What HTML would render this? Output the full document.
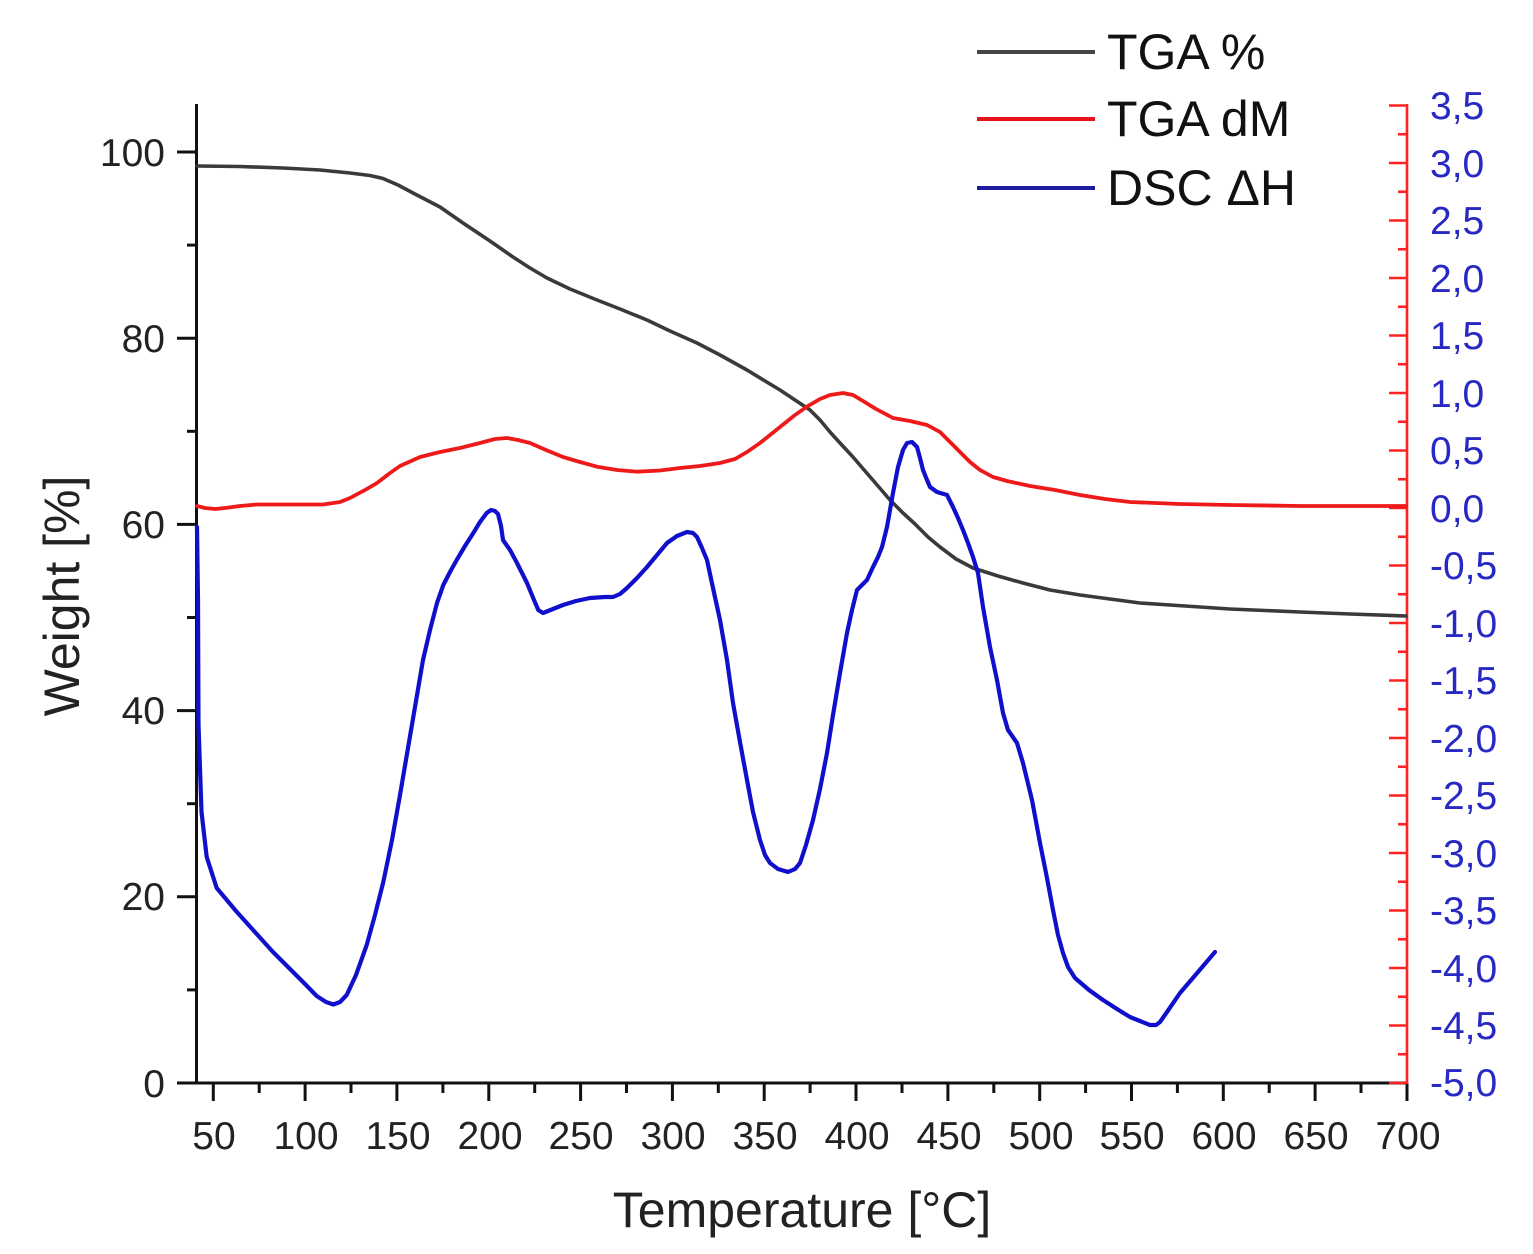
<!DOCTYPE html>
<html><head><meta charset="utf-8"><style>
html,body{margin:0;padding:0;background:#fff;}
svg{display:block;}
text{font-family:"Liberation Sans",Arial,sans-serif;}
</style></head><body>
<svg width="1533" height="1254" viewBox="0 0 1533 1254" xmlns="http://www.w3.org/2000/svg">
<rect width="1533" height="1254" fill="#fff"/>

<!-- Left axis -->
<g stroke="#111" stroke-width="3" fill="none">
<line x1="196.5" y1="104" x2="196.5" y2="1084.5"/>
<line x1="177" y1="1083" x2="1407" y2="1083"/>
<line x1="177" y1="896.8" x2="196.5" y2="896.8"/>
<line x1="177" y1="710.6" x2="196.5" y2="710.6"/>
<line x1="177" y1="524.4" x2="196.5" y2="524.4"/>
<line x1="177" y1="338.2" x2="196.5" y2="338.2"/>
<line x1="177" y1="152" x2="196.5" y2="152"/>
<line x1="187" y1="989.9" x2="196.5" y2="989.9"/>
<line x1="187" y1="803.7" x2="196.5" y2="803.7"/>
<line x1="187" y1="617.5" x2="196.5" y2="617.5"/>
<line x1="187" y1="431.3" x2="196.5" y2="431.3"/>
<line x1="187" y1="245.1" x2="196.5" y2="245.1"/>
<line x1="213.3" y1="1083" x2="213.3" y2="1101"/>
<line x1="305.1" y1="1083" x2="305.1" y2="1101"/>
<line x1="396.9" y1="1083" x2="396.9" y2="1101"/>
<line x1="488.8" y1="1083" x2="488.8" y2="1101"/>
<line x1="580.6" y1="1083" x2="580.6" y2="1101"/>
<line x1="672.4" y1="1083" x2="672.4" y2="1101"/>
<line x1="764.2" y1="1083" x2="764.2" y2="1101"/>
<line x1="856.0" y1="1083" x2="856.0" y2="1101"/>
<line x1="947.9" y1="1083" x2="947.9" y2="1101"/>
<line x1="1039.7" y1="1083" x2="1039.7" y2="1101"/>
<line x1="1131.5" y1="1083" x2="1131.5" y2="1101"/>
<line x1="1223.3" y1="1083" x2="1223.3" y2="1101"/>
<line x1="1315.1" y1="1083" x2="1315.1" y2="1101"/>
<line x1="1407" y1="1083" x2="1407" y2="1101"/>
<line x1="259.2" y1="1083" x2="259.2" y2="1093"/>
<line x1="351.0" y1="1083" x2="351.0" y2="1093"/>
<line x1="442.9" y1="1083" x2="442.9" y2="1093"/>
<line x1="534.7" y1="1083" x2="534.7" y2="1093"/>
<line x1="626.5" y1="1083" x2="626.5" y2="1093"/>
<line x1="718.3" y1="1083" x2="718.3" y2="1093"/>
<line x1="810.1" y1="1083" x2="810.1" y2="1093"/>
<line x1="902.0" y1="1083" x2="902.0" y2="1093"/>
<line x1="993.8" y1="1083" x2="993.8" y2="1093"/>
<line x1="1085.6" y1="1083" x2="1085.6" y2="1093"/>
<line x1="1177.4" y1="1083" x2="1177.4" y2="1093"/>
<line x1="1269.2" y1="1083" x2="1269.2" y2="1093"/>
<line x1="1361.0" y1="1083" x2="1361.0" y2="1093"/>
</g>

<!-- Right axis (red) -->
<g stroke="#ff2222" stroke-width="2.6" fill="none">
<line x1="1407" y1="104" x2="1407" y2="1084"/>
<line x1="1389" y1="105.5" x2="1407" y2="105.5"/>
<line x1="1389" y1="163" x2="1407" y2="163"/>
<line x1="1389" y1="220.5" x2="1407" y2="220.5"/>
<line x1="1389" y1="278" x2="1407" y2="278"/>
<line x1="1389" y1="335.5" x2="1407" y2="335.5"/>
<line x1="1389" y1="393" x2="1407" y2="393"/>
<line x1="1389" y1="450.5" x2="1407" y2="450.5"/>
<line x1="1389" y1="508" x2="1407" y2="508"/>
<line x1="1389" y1="565.5" x2="1407" y2="565.5"/>
<line x1="1389" y1="623" x2="1407" y2="623"/>
<line x1="1389" y1="680.5" x2="1407" y2="680.5"/>
<line x1="1389" y1="738" x2="1407" y2="738"/>
<line x1="1389" y1="795.5" x2="1407" y2="795.5"/>
<line x1="1389" y1="853" x2="1407" y2="853"/>
<line x1="1389" y1="910.5" x2="1407" y2="910.5"/>
<line x1="1389" y1="968" x2="1407" y2="968"/>
<line x1="1389" y1="1025.5" x2="1407" y2="1025.5"/>
<line x1="1389" y1="1083" x2="1407" y2="1083"/>
<line x1="1398" y1="134.25" x2="1407" y2="134.25"/>
<line x1="1398" y1="191.75" x2="1407" y2="191.75"/>
<line x1="1398" y1="249.25" x2="1407" y2="249.25"/>
<line x1="1398" y1="306.75" x2="1407" y2="306.75"/>
<line x1="1398" y1="364.25" x2="1407" y2="364.25"/>
<line x1="1398" y1="421.75" x2="1407" y2="421.75"/>
<line x1="1398" y1="479.25" x2="1407" y2="479.25"/>
<line x1="1398" y1="536.75" x2="1407" y2="536.75"/>
<line x1="1398" y1="594.25" x2="1407" y2="594.25"/>
<line x1="1398" y1="651.75" x2="1407" y2="651.75"/>
<line x1="1398" y1="709.25" x2="1407" y2="709.25"/>
<line x1="1398" y1="766.75" x2="1407" y2="766.75"/>
<line x1="1398" y1="824.25" x2="1407" y2="824.25"/>
<line x1="1398" y1="881.75" x2="1407" y2="881.75"/>
<line x1="1398" y1="939.25" x2="1407" y2="939.25"/>
<line x1="1398" y1="996.75" x2="1407" y2="996.75"/>
<line x1="1398" y1="1054.25" x2="1407" y2="1054.25"/>
</g>

<!-- Left tick labels -->
<g font-size="39" fill="#222" text-anchor="end">
<text x="165" y="1097">0</text>
<text x="165" y="910">20</text>
<text x="165" y="724">40</text>
<text x="165" y="538">60</text>
<text x="165" y="352">80</text>
<text x="165" y="166">100</text>
</g>

<!-- Bottom tick labels -->
<g font-size="39" fill="#222" text-anchor="middle">
<text x="214" y="1149">50</text>
<text x="306" y="1149">100</text>
<text x="398" y="1149">150</text>
<text x="490" y="1149">200</text>
<text x="581" y="1149">250</text>
<text x="673" y="1149">300</text>
<text x="765" y="1149">350</text>
<text x="857" y="1149">400</text>
<text x="949" y="1149">450</text>
<text x="1041" y="1149">500</text>
<text x="1132" y="1149">550</text>
<text x="1224" y="1149">600</text>
<text x="1316" y="1149">650</text>
<text x="1408" y="1149">700</text>
</g>

<!-- Right tick labels -->
<g font-size="39" fill="#2828c4" text-anchor="start">
<text x="1430" y="119">3,5</text>
<text x="1430" y="177">3,0</text>
<text x="1430" y="234">2,5</text>
<text x="1430" y="292">2,0</text>
<text x="1430" y="349">1,5</text>
<text x="1430" y="407">1,0</text>
<text x="1430" y="464">0,5</text>
<text x="1430" y="522">0,0</text>
<text x="1430" y="579">-0,5</text>
<text x="1430" y="637">-1,0</text>
<text x="1430" y="694">-1,5</text>
<text x="1430" y="752">-2,0</text>
<text x="1430" y="809">-2,5</text>
<text x="1430" y="867">-3,0</text>
<text x="1430" y="924">-3,5</text>
<text x="1430" y="982">-4,0</text>
<text x="1430" y="1039">-4,5</text>
<text x="1430" y="1096">-5,0</text>
</g>

<!-- Axis titles -->
<text x="802" y="1227" font-size="50" fill="#222" text-anchor="middle">Temperature [°C]</text>
<text transform="translate(79,596) rotate(-90)" font-size="50" fill="#222" text-anchor="middle">Weight [%]</text>

<!-- TGA % (black) -->
<polyline fill="none" stroke="#3a3a3a" stroke-width="3.6" stroke-linejoin="round" stroke-linecap="round" points="
197,166 240,166.5 283,168 320,170 350,173 370,175.5 383,178.5 398,185 413,193 440,207 463,223 490,241 513,257 530,268 547,278 570,289 597,300 620,309 647,320 670,331 697,343 720,355 747,370 765,381 780,390 795,400 810,410 820,420 830,432 840,443 853,457 865,471 878,486 890,500 903,513 915,524 928,537 940,547 956,559 973,568 998,576 1023,583 1050,590 1080,595 1110,599 1140,603 1170,605 1200,607 1230,609 1300,612 1350,614 1406,616"/>

<!-- TGA dM (red) -->
<polyline fill="none" stroke="#ee1a1a" stroke-width="3.8" stroke-linejoin="round" stroke-linecap="round" points="
197,506 205,508 215,509 225,508 240,506 257,504.5 280,504.5 300,504.5 323,504.5 340,502 350,498 365,490 377,483 390,473 400,466 420,457 440,452 460,448 480,443 495,439 507,438 518,440 530,443 546,450 563,457 580,462 597,466.7 617,470 637,471.7 660,470.5 680,468 700,466 720,463 735,459 747,452 760,443 780,427 795,415 808,406 820,399 830,395 843,393 853,395 863,401 876,409 893,418 910,421 927,425 940,432 950,442 960,452 970,462 980,470 993,477 1007,481 1030,486 1055,490 1080,495 1105,499 1130,502 1180,504 1230,505 1300,506 1406,506"/>

<!-- DSC (blue) -->
<polyline fill="none" stroke="#1010cc" stroke-width="4.2" stroke-linejoin="round" stroke-linecap="round" points="
197,527 198,600 198.5,725 201.5,812 206.7,857 216.7,888 236,911 256.7,934 273,952 290,969 305,984 316.7,996 326,1002 333.3,1004.5 340,1002 346.7,995 356,975 366.7,945 375,915 383.3,882 392,840 400,795 408,748 416.7,697 423,660 430,630 437,603 443.3,585 450,572 456.7,560 465,546 473.3,533 480,522 486.7,513 491,510 495,511 498,514 501,526 503,540 510,550 517,563 527,583 534,600 538.3,610 543,613 553,609 563,605 576,601 590,598 605,597 613,597 620,594 627,588 637,578 647,567 657,555 667,543 677,536 687,532 693,533 697,537 702,548 707,560 713,588 720,620 727,660 733,703 740,742 747,780 753,812 760,840 765,855 770,863 778,869 788,872 795,869 800,863 806,845 813,820 820,789 827,753 833,715 840,673 847,633 852,610 857,590 867,580 873,567 878,557 882,547 887,527 893,493 898,467 903,450 907,443 912,442 917,447 920,458 923,470 927,480 930,487 937,492 947,495 953,507 958,518 963,530 968,543 973,557 978,573 983,607 990,647 997,680 1003,713 1008,730 1017,743 1023,763 1032,800 1040,843 1047,878 1053,910 1058,935 1063,953 1068,967 1075,978 1089,990 1103,1000 1117,1009 1130,1017 1140,1021 1150,1025 1156,1025 1160,1022 1167,1012 1180,993 1198,972 1215,952"/>

<!-- Legend -->
<g stroke-width="4" stroke-linecap="butt">
<line x1="977" y1="52" x2="1095" y2="52" stroke="#444"/>
<line x1="977" y1="119" x2="1095" y2="119" stroke="#e8141c"/>
<line x1="977" y1="188" x2="1095" y2="188" stroke="#1c1c9c"/>
</g>
<g font-size="50" fill="#111">
<text x="1107" y="69">TGA %</text>
<text x="1107" y="136">TGA dM</text>
<text x="1107" y="205">DSC ΔH</text>
</g>
</svg>
</body></html>
